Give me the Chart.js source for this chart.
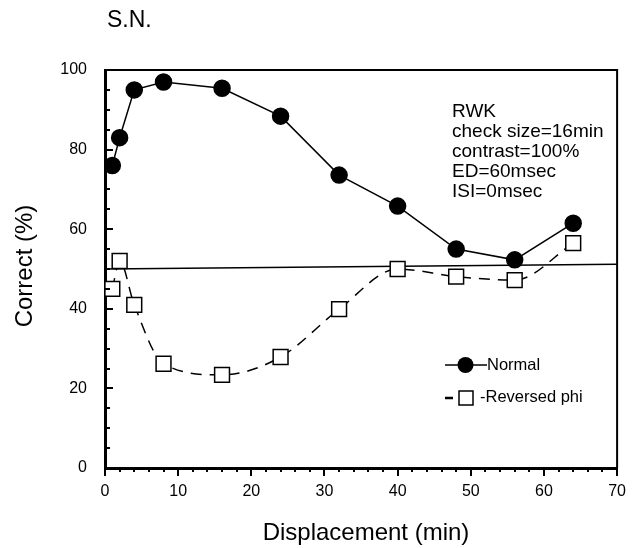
<!DOCTYPE html>
<html>
<head>
<meta charset="utf-8">
<script src="https://cdn.jsdelivr.net/npm/chart.js@4"></script>
<style>
html, body { margin: 0; padding: 0; background: #fff; }
</style>
</head>
<body>
<canvas id="grafica" width="640" height="548"></canvas>
<script>
// DATOS
const displacement = [1, 2, 4, 8, 16, 24, 32, 40, 48, 56, 64];
const normal = [76, 83, 95, 97, 95.4, 88.4, 73.6, 65.8, 55, 52.3, 61.5];
const reversedPhi = [45, 52, 41, 26.2, 23.4, 27.9, 39.9, 50, 48.1, 47.2, 56.5];
const chanceX = [0, 70];
const chanceY = [50, 51.2];
const infoLines = ["RWK", "check size=16min", "contrast=100%", "ED=60msec", "ISI=0msec"];

const FONT = '"Liberation Sans", Arial, Helvetica, sans-serif';
Chart.defaults.font.family = FONT;
Chart.defaults.color = "#000";

const toPoints = (xs, ys) => xs.map((v, i) => ({ x: v, y: ys[i] }));

// ticks, marco, textos y leyenda
const decor = {
    id: "decor",
    afterDraw(chart) {
        const { ctx, chartArea: a, scales: { x, y } } = chart;
        ctx.save();
        ctx.strokeStyle = "#000";
        ctx.fillStyle = "#000";

        // marco arriba y derecha
        ctx.lineWidth = 2;
        ctx.beginPath();
        ctx.moveTo(a.left, a.top);
        ctx.lineTo(a.right, a.top);
        ctx.lineTo(a.right, a.bottom);
        ctx.stroke();

        // ticks eje x (hacia afuera)
        ctx.lineWidth = 2;
        ctx.beginPath();
        for (let v = 0; v <= 70; v += 2) {
            const px = Math.round(x.getPixelForValue(v));
            const len = v % 10 === 0 ? 8 : 4;
            ctx.moveTo(px, a.bottom);
            ctx.lineTo(px, a.bottom + len);
        }
        // ticks eje y (hacia adentro)
        for (let v = 0; v <= 100; v += 5) {
            const py = Math.round(y.getPixelForValue(v));
            const len = v % 20 === 0 ? 8 : 5;
            ctx.moveTo(a.left, py);
            ctx.lineTo(a.left + len, py);
        }
        ctx.stroke();

        // titulos
        ctx.textBaseline = "middle";
        ctx.textAlign = "left";
        ctx.font = "23px " + FONT;
        ctx.fillText("S.N.", 107, 21);

        ctx.textAlign = "center";
        ctx.font = "24px " + FONT;
        ctx.fillText("Displacement (min)", 366, 533);
        ctx.save();
        ctx.translate(25, 266);
        ctx.rotate(-Math.PI / 2);
        ctx.fillText("Correct (%)", 0, 0);
        ctx.restore();

        // condiciones
        ctx.textAlign = "left";
        ctx.textBaseline = "alphabetic";
        ctx.font = "19px " + FONT;
        infoLines.forEach((t, i) => ctx.fillText(t, 452, 117 + i * 20));

        // leyenda
        ctx.lineWidth = 1.5;
        ctx.beginPath();
        ctx.moveTo(445, 365);
        ctx.lineTo(487, 365);
        ctx.stroke();
        ctx.beginPath();
        ctx.arc(465.5, 365, 8, 0, Math.PI * 2);
        ctx.fill();

        ctx.lineWidth = 2.5;
        ctx.beginPath();
        ctx.moveTo(445, 398);
        ctx.lineTo(453, 398);
        ctx.stroke();
        ctx.lineWidth = 1.5;
        ctx.strokeRect(459, 391, 14, 14);

        ctx.font = "16.5px " + FONT;
        ctx.textBaseline = "middle";
        ctx.fillText("Normal", 487, 365);
        ctx.fillText("-Reversed phi", 480, 397);

        ctx.restore();
    }
};

new Chart(document.getElementById("grafica"), {
    type: "line",
    data: {
        datasets: [
            {
                label: "Normal",
                data: toPoints(displacement, normal),
                borderColor: "#000",
                borderWidth: 1.5,
                backgroundColor: "#000",
                pointRadius: 8,
                pointStyle: "circle",
                tension: 0
            },
            {
                label: "Reversed phi",
                data: toPoints(displacement, reversedPhi),
                borderColor: "#000",
                borderWidth: 1.5,
                borderDash: [11, 8],
                backgroundColor: "#fff",
                pointBorderColor: "#000",
                pointBorderWidth: 1.5,
                pointRadius: 10.5,
                pointStyle: "rect",
                cubicInterpolationMode: "monotone"
            },
            {
                label: "chance",
                data: toPoints(chanceX, chanceY),
                borderColor: "#000",
                borderWidth: 1.5,
                pointRadius: 0,
                tension: 0
            }
        ]
    },
    options: {
        responsive: false,
        animation: false,
        devicePixelRatio: 1,
        layout: { padding: { top: 70, right: 12, left: 0, bottom: 0 } },
        plugins: {
            legend: { display: false },
            tooltip: { enabled: false }
        },
        scales: {
            x: {
                type: "linear",
                min: 0,
                max: 70,
                afterFit: s => { s.height = 80; },
                ticks: { stepSize: 10, padding: 14, font: { size: 16 } },
                grid: { display: false, drawTicks: false },
                border: { display: true, color: "#000", width: 3 }
            },
            y: {
                min: 0,
                max: 100,
                afterFit: s => { s.width = 105; },
                ticks: { stepSize: 20, padding: 18, font: { size: 16 } },
                grid: { display: false, drawTicks: false },
                border: { display: true, color: "#000", width: 3 }
            }
        }
    },
    plugins: [decor]
});
</script>
</body>
</html>
